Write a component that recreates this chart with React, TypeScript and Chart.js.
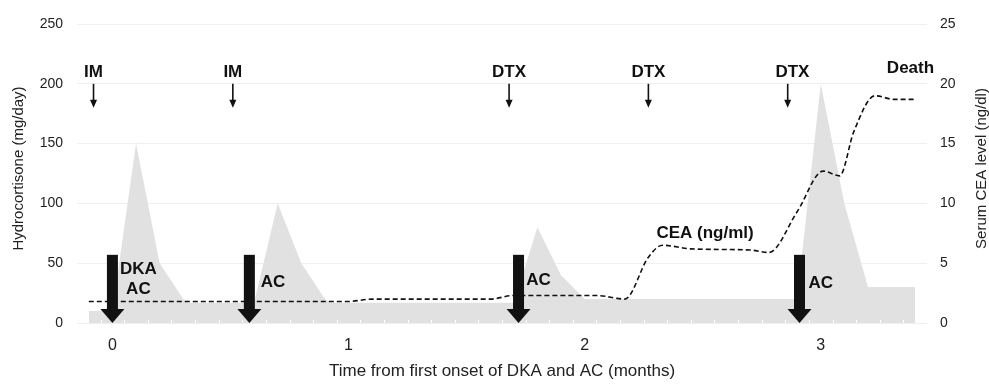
import React, { useEffect, useRef } from "react";
import { Chart, registerables } from "chart.js";

Chart.register(...registerables);

// Hydrocortisone dose (mg/day) — left axis
const hydroMonths = [-0.1, 0.0, 0.1, 0.2, 0.3, 0.32, 0.6, 0.7, 0.8, 0.9, 0.92, 1.7, 1.8, 1.9, 2.0, 2.9, 3.0, 3.1, 3.2, 3.4];
const hydroDose = [10, 10, 150, 50, 20, 17, 17, 100, 50, 20, 17, 17, 80, 40, 20, 20, 200, 100, 30, 30];

// Serum CEA level — right axis
const ceaMonths = [-0.1, 0.5, 1.0, 1.1, 1.6, 1.7, 2.05, 2.17, 2.27, 2.33, 2.45, 2.7, 2.78, 2.9, 3.01, 3.08, 3.14, 3.23, 3.31, 3.4];
const ceaLevel = [1.8, 1.8, 1.8, 2.0, 2.0, 2.3, 2.3, 2.0, 5.5, 6.5, 6.2, 6.1, 5.9, 9.3, 12.7, 12.3, 16.0, 19.0, 18.7, 18.7];

// Axis ticks
const xTickValues = [0, 1, 2, 3];
const minorTickValues = [-0.05, 0.05, 0.15, 0.25, 0.35, 0.45, 0.55, 0.65, 0.75, 0.85, 0.95, 1.05, 1.15, 1.25, 1.35, 1.45, 1.55, 1.65, 1.75, 1.85, 1.95, 2.05, 2.15, 2.25, 2.35, 2.45, 2.55, 2.65, 2.75, 2.85, 2.95, 3.05, 3.15, 3.25, 3.35];

// Treatment markers (thin arrows): month, label
const treatMonths = [-0.08, 0.51, 1.68, 2.27, 2.86];
const treatLabelMonths = [-0.08, 0.51, 1.68, 2.27, 2.88];
const treatLabels = ["IM", "IM", "DTX", "DTX", "DTX"];
const treatArrowFrom = 200;
const treatArrowTo = 180;
const treatLabelLevel = 210;

// Event markers (thick arrows)
const eventMonths = [0, 0.58, 1.72, 2.91];
const eventArrowTop = 57;

// Text notes: [text, month, mg/day level]
const noteTexts = ["DKA", "AC", "AC", "AC", "AC", "CEA (ng/ml)", "Death"];
const noteMonths = [0.11, 0.11, 0.68, 1.805, 3.0, 2.51, 3.38];
const noteLevels = [45, 28, 34, 36, 33.5, 75, 213];

const leftTitle = "Hydrocortisone (mg/day)";
const rightTitle = "Serum CEA level (ng/dl)";

const FONT = "'Liberation Sans', Arial, Helvetica, sans-serif";

const annotPlugin = {
  id: "annot",
  afterDatasetsDraw(chart: any) {
    const { ctx, chartArea, scales } = chart;
    const xs = scales.x;
    const ys = scales.y;
    ctx.save();
    // white minor ticks at the bottom
    ctx.strokeStyle = "#ffffff";
    ctx.lineWidth = 1;
    for (const v of minorTickValues) {
      const px = Math.round(xs.getPixelForValue(v)) + 0.5;
      ctx.beginPath();
      ctx.moveTo(px, chartArea.bottom - 3);
      ctx.lineTo(px, chartArea.bottom);
      ctx.stroke();
    }
    // thick arrows
    ctx.fillStyle = "#111111";
    for (const m of eventMonths) {
      const px = xs.getPixelForValue(m);
      const top = ys.getPixelForValue(eventArrowTop);
      const tip = ys.getPixelForValue(0);
      const headH = 14;
      const headW = 24;
      const shaftW = 11;
      ctx.fillRect(px - shaftW / 2, top, shaftW, tip - headH - top + 1);
      ctx.beginPath();
      ctx.moveTo(px - headW / 2, tip - headH);
      ctx.lineTo(px + headW / 2, tip - headH);
      ctx.lineTo(px, tip);
      ctx.closePath();
      ctx.fill();
    }
    // thin arrows
    ctx.strokeStyle = "#111111";
    ctx.lineWidth = 1.6;
    for (const m of treatMonths) {
      const px = xs.getPixelForValue(m);
      const y0 = ys.getPixelForValue(treatArrowFrom);
      const y1 = ys.getPixelForValue(treatArrowTo);
      const hh = 8;
      const hw = 7;
      ctx.beginPath();
      ctx.moveTo(px, y0);
      ctx.lineTo(px, y1 - hh + 1);
      ctx.stroke();
      ctx.beginPath();
      ctx.moveTo(px - hw / 2, y1 - hh);
      ctx.lineTo(px + hw / 2, y1 - hh);
      ctx.lineTo(px, y1);
      ctx.closePath();
      ctx.fill();
    }
    // labels
    ctx.font = `bold 17px ${FONT}`;
    ctx.textAlign = "center";
    ctx.textBaseline = "middle";
    treatLabels.forEach((t, i) => {
      ctx.fillText(t, xs.getPixelForValue(treatLabelMonths[i]), ys.getPixelForValue(treatLabelLevel));
    });
    noteTexts.forEach((t, i) => {
      ctx.fillText(t, xs.getPixelForValue(noteMonths[i]), ys.getPixelForValue(noteLevels[i]));
    });
    // axis titles (both read bottom-to-top)
    const midY = (chartArea.top + chartArea.bottom) / 2 - 5;
    ctx.font = `15px ${FONT}`;
    ctx.fillStyle = "#222222";
    ctx.save();
    ctx.translate(scales.y.left + 19, midY);
    ctx.rotate(-Math.PI / 2);
    ctx.fillText(leftTitle, 0, 0);
    ctx.restore();
    ctx.save();
    ctx.translate(scales.y1.right - 7, midY);
    ctx.rotate(-Math.PI / 2);
    ctx.fillText(rightTitle, 0, 0);
    ctx.restore();
    ctx.restore();
  },
};

export default function App() {
  const ref = useRef<HTMLCanvasElement | null>(null);
  useEffect(() => {
    if (!ref.current) return;
    Chart.defaults.font.family = FONT;
    const chart = new Chart(ref.current, {
      type: "line",
      data: {
        datasets: [
          {
            label: "CEA",
            data: ceaMonths.map((x, i) => ({ x, y: ceaLevel[i] })),
            yAxisID: "y1",
            borderColor: "#111111",
            borderWidth: 1.6,
            borderDash: [5, 3],
            fill: false,
            pointRadius: 0,
            cubicInterpolationMode: "monotone",
            order: 1,
          },
          {
            label: "Hydrocortisone",
            data: hydroMonths.map((x, i) => ({ x, y: hydroDose[i] })),
            yAxisID: "y",
            borderWidth: 0,
            borderColor: "rgba(0,0,0,0)",
            backgroundColor: "#e1e1e1",
            fill: "origin",
            pointRadius: 0,
            tension: 0,
            order: 2,
          },
        ],
      },
      options: {
        responsive: false,
        animation: false,
        layout: { padding: { top: 24, left: 0, right: 0, bottom: 0 } },
        plugins: { legend: { display: false }, tooltip: { enabled: false } },
        scales: {
          x: {
            type: "linear",
            min: -0.15,
            max: 3.45,
            afterBuildTicks: (s: any) => {
              s.ticks = xTickValues.map((v) => ({ value: v }));
            },
            afterFit: (s: any) => {
              s.height = 65;
            },
            grid: { display: false, drawTicks: false },
            border: { display: false },
            ticks: { padding: 13, color: "#222222", font: { size: 16 } },
            title: {
              display: true,
              text: "Time from first onset of DKA and AC (months)",
              color: "#222222",
              font: { size: 17 },
              padding: { top: 0, bottom: 6 },
            },
          },
          y: {
            position: "left",
            min: 0,
            max: 250,
            ticks: { stepSize: 50, padding: 14, color: "#222222", font: { size: 14 } },
            grid: { color: "#efefef", drawTicks: false, lineWidth: 1 },
            border: { display: false },
            afterFit: (s: any) => {
              s.width = 77;
            },
          },
          y1: {
            position: "right",
            min: 0,
            max: 25,
            ticks: { stepSize: 5, padding: 13, color: "#222222", font: { size: 14 } },
            grid: { drawOnChartArea: false, drawTicks: false },
            border: { display: false },
            afterFit: (s: any) => {
              s.width = 62;
            },
          },
        },
      },
      plugins: [annotPlugin],
    });
    return () => chart.destroy();
  }, []);
  return (
    <div style={{ position: "absolute", left: 0, top: 0, width: 989, height: 388 }}>
      <canvas ref={ref} width={989} height={388} style={{ display: "block" }} />
    </div>
  );
}
